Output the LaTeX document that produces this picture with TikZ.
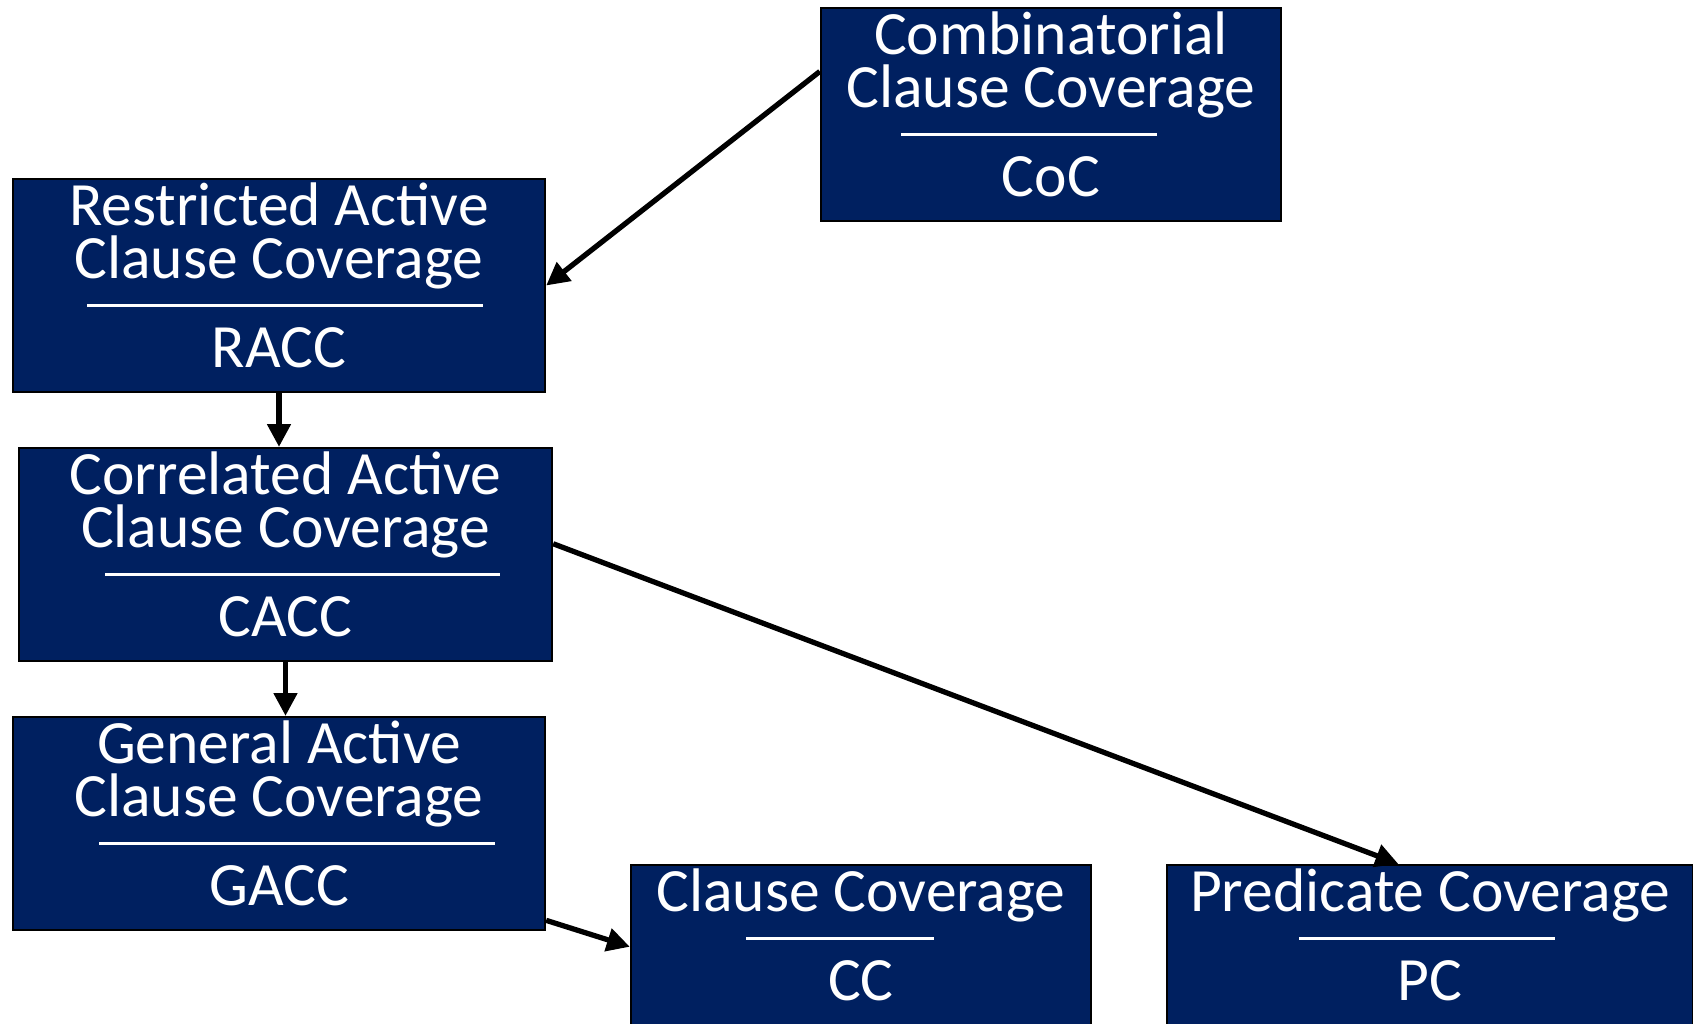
\documentclass[tikz,border=0pt]{standalone}
\usepackage{fontspec}
\setmainfont{Carlito}
\usetikzlibrary{arrows.meta,calc}
\definecolor{navy}{RGB}{0,32,96}
\tikzset{
  covbox/.style={draw=black, line width=0.6pt, fill=navy, text=white, inner sep=0pt,
    font=\fontsize{17.5pt}{14.94pt}\selectfont},
  implies/.style={-{Triangle[length=6.5pt,width=6.5pt]}, line width=1.5pt}
}
% box text: width, title, rule width, abbreviation, rule offset
\newcommand{\boxtext}[5]{%
  \parbox[c][2.13cm][t]{#1}{\centering\rule{0pt}{13.37pt}#2\\[10.36pt]%
  \makebox[0pt][l]{\hspace*{\dimexpr #5-#3/2\relax}\raisebox{17.2pt}[0pt][0pt]{\rule{#3}{0.9pt}}}\makebox[0pt]{#4}}}

\begin{document}
\begin{tikzpicture}[x=0.01cm, y=-0.01cm]
\useasboundingbox (0,0) rectangle (1693,1024);
      \node [covbox] at (1051,114.5) (coc) {\boxtext{4.6cm}{Combinatorial\\Clause Coverage}{2.56cm}{CoC}{-0.22cm}};
       \node [covbox] at (279,285.5) (racc) {\boxtext{5.32cm}{Restricted Active\\Clause Coverage}{3.95cm}{RACC}{0.06cm}};
        \node [covbox] at (285.5,554.5) (cacc) {\boxtext{5.33cm}{Correlated Active\\Clause Coverage}{3.94cm}{CACC}{0.17cm}};
         \node [covbox] at (279,823.5) (gacc) {\boxtext{5.32cm}{General Active\\Clause Coverage}{3.95cm}{GACC}{0.18cm}};
          \node [covbox] at (861,971.5) (cc) {\boxtext{4.6cm}{Clause Coverage}{1.87cm}{CC}{-0.21cm}};
           \node [covbox] at (1430,971.5) (pc) {\boxtext{5.26cm}{Predicate Coverage}{2.55cm}{PC}{-0.03cm}};
%
\draw [implies] ($(coc.north west)!0.3!(coc.south west)$) -- (racc.east);
\draw [implies] (racc.south) -- (racc.south |- cacc.north);
\draw [implies] (cacc.south) -- (cacc.south |- gacc.north);
\draw [implies] ($(cacc.north east)!0.45!(cacc.south east)$) -- ($(pc.north west)!0.44!(pc.north east)$);
\draw [implies] ($(gacc.north east)!0.95!(gacc.south east)$) -- ($(cc.north west)!0.385!(cc.south west)$);

\end{tikzpicture}
\end{document}
